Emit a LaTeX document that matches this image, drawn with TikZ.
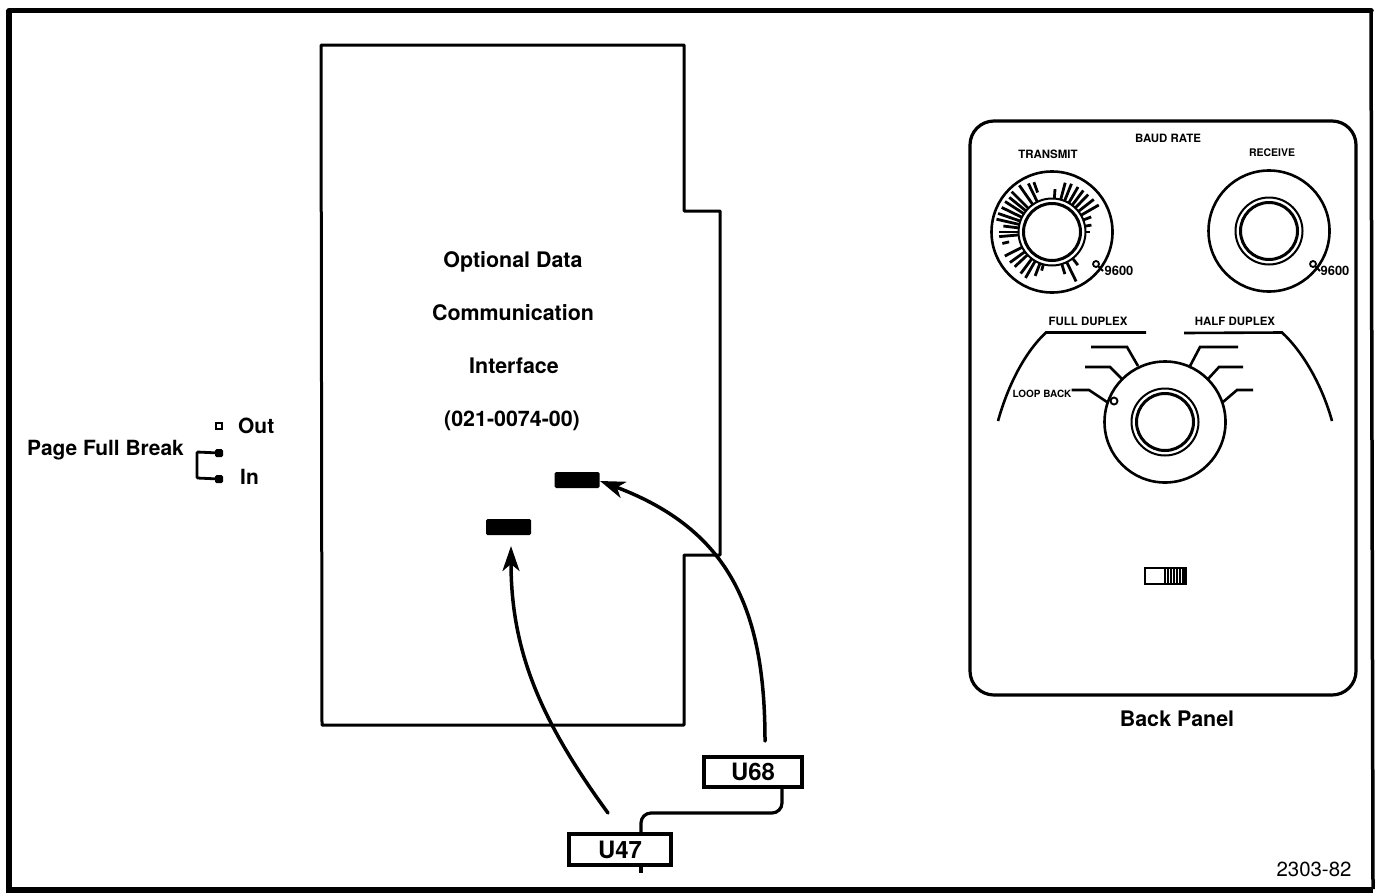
\documentclass[tikz,border=0pt]{standalone}
\usepackage{fontspec}
\setmainfont{TeX Gyre Heros}
\usetikzlibrary{arrows.meta}
\tikzset{
  x=1bp,y=-1bp,
  frameline/.style={line width=5.5bp,line cap=round,line join=round},
  panelline/.style={line width=3bp,line join=round},
  backpanel/.style={line width=3.2bp},
  title/.style={font=\fontsize{21.5}{24}\selectfont\bfseries,inner sep=0pt,anchor=center},
  label/.style={font=\fontsize{21}{24}\selectfont\bfseries,inner sep=0pt,anchor=center},
  smallcaps/.style={font=\fontsize{11.5}{13}\selectfont\bfseries,inner sep=0pt,anchor=center},
  chipbox/.style={fill=black,rounded corners=1.5bp,minimum width=45bp,minimum height=16bp,inner sep=0pt},
  ubox/.style={draw,line width=3.2bp,fill=white,font=\fontsize{24}{26}\selectfont\bfseries,inner sep=0pt},
  pointer/.style={line width=3.5bp,line cap=round,-{Stealth[length=25bp,width=17bp,inset=7bp]}},
  knobline/.style={line width=2.6bp},
  knobring/.style={line width=2bp},
  wire/.style={line width=3.2bp,line join=round},
  tick/.style={line width=2.8bp},
  jumper/.style={fill=black,rounded corners=1.5bp,minimum width=8bp,minimum height=8bp,inner sep=0pt},
}
\begin{document}
\begin{tikzpicture}
\useasboundingbox (0,0) rectangle (1377,893);
% outer frame
\draw[frameline] (9,10.5) -- (1371,10.5);
\draw[line width=3.5bp] (1371,10) -- (1373,889);
\draw[line width=6bp] (9,10) -- (9,890) -- (1373,890);

% card outline
\draw[panelline] (321,45) -- (684,45) -- (684,211) -- (720,211) -- (720,555) -- (684,555) -- (684,725) -- (322,725) -- cycle;
\node[title] (t1) at (513,261.5) {Optional Data};
\node[title] (t2) at (513,312.5) {Communication};
\node[title] (t3) at (514,365.5) {Interface};
\node[title] (t4) at (512,421) {(021-0074-00)};

% chips
\node[chipbox] (chipa) at (577,480) {};
\node[chipbox] (chipb) at (508.5,527) {};

% U boxes
\node[ubox,minimum width=98bp,minimum height=30bp] (uc) at (753,772) {U68};
\node[ubox,minimum width=102bp,minimum height=31bp] (ud) at (620,849.5) {U47};

% arrows
\coordinate (sa) at (765,741);
\coordinate (ea) at (600,481);
\coordinate (sb) at (608,813);
\coordinate (eb) at (511,546);
\draw[pointer] (sa) .. controls (765,610) and (730,530) .. (ea);
\draw[pointer] (sb) .. controls (540,720) and (511,650) .. (eb);

% wire between U68 and U47
\coordinate (ucb) at (782,787);
\coordinate (udt) at (641,834);
\coordinate (udb) at (641,873);
\draw[wire,rounded corners=10bp] (ucb) -- (782,813) -- (641,813) -- (udt);
\draw[wire] (641,865) -- (udb);

% page full break
\node[label] (pf) at (105.5,450.5) {Page Full Break};
\node[label,anchor=west] (out) at (238,426) {Out};
\node[label,anchor=west] (in) at (240,477) {In};
\node[draw,line width=2bp,minimum width=6bp,minimum height=6bp,inner sep=0pt] (sq) at (218.5,426) {};
\node[jumper] (ja) at (219,453) {};
\node[jumper] (jb) at (219,479) {};
\draw[line width=2.8bp,rounded corners=1bp] (ja.center) -- (197,452) -- (197,478) -- (jb.center);

% back panel
\draw[backpanel,rounded corners=24bp] (970,121) rectangle (1356,695);
\node[title] (bp) at (1177,719) {Back Panel};
\node[inner sep=0pt,font=\fontsize{20.5}{22}\selectfont] (num) at (1314,869) {2303-82};

\node[smallcaps] (baud) at (1168,138) {BAUD RATE};
\node[smallcaps] (tx) at (1048,154) {TRANSMIT};
\node[smallcaps,font=\fontsize{10.5}{13}\selectfont\bfseries] (rx) at (1272,153) {RECEIVE};
\node[smallcaps] (fd) at (1088,321) {FULL DUPLEX};
\node[smallcaps] (hd) at (1235,321) {HALF DUPLEX};
\node[smallcaps,font=\fontsize{10}{13}\selectfont\bfseries] (lb) at (1042,394) {LOOP BACK};
\node[smallcaps,font=\fontsize{13}{15}\selectfont\bfseries] (na) at (1119,271) {9600};
\node[smallcaps,font=\fontsize{13}{15}\selectfont\bfseries] (nb) at (1335,271) {9600};

% transmit knob ticks
\begin{scope}[shift={(1052,232)}]
\foreach \a/\r/\q in {
  -86/43/33,-75/51/33,-68/52/33,-60/52/33,-53/52/33,-46/52/33,-38/53/33,-30/54/33,-21/42/33,-10/40/33,0/38/33,
  73/44/33,64/55/33,52/42/33,
  105/40/33,111/47/33,120/53/33,127/52/33,137/51/33,144/52/33,153/53/33,167/51/44,175/53/33,180/53/33,
  -173/49/33,-167/57/33,-161/57/33,-154/56/33,-147/56/33,-141/55/33,-135/57/33,-125/57/33,-116/54/33,-110/53/42}
  \draw[tick] (\a:\q) -- (\a:\r);
\end{scope}

% knobs
\foreach \nm/\cx/\cy in {a/1052/232,b/1269/231,c/1165/422}{
  \draw[knobline] (\cx,\cy) circle (60.5);
  \draw[draw=white,line width=3bp] (\cx,\cy) circle (31);
  \draw[knobring] (\cx,\cy) circle (33.5);
  \draw[knobline,line width=3bp] (\cx,\cy) circle (28.5);
}
\draw[line width=1.8bp] (1096,264) circle (3);
\draw[line width=1.8bp] (1313,264) circle (3);
\draw[line width=1.8bp] (1098.5,266.5) -- (1103,271);
\draw[line width=1.8bp] (1315.5,266.5) -- (1320,271);
\draw[line width=1.9bp] (1114,401) circle (3.5);

% duplex brackets
\draw[knobline] (998,421) .. controls (1008,385) and (1025,352) .. (1046,332.5) -- (1146,332.5);
\draw[knobline] (1184,333) -- (1282,332.5) .. controls (1303,352) and (1322,385) .. (1332,421);

% selector leaders
\draw[knobline] (1091,347) -- (1127,347) -- (1138,366);
\draw[knobline] (1085,367) -- (1110,367) -- (1122,379);
\draw[knobline] (lb.east) ++(0,-4) -- (1089,390) -- (1107,402);
\draw[knobline] (1238,347) -- (1200,347) -- (1190,366);
\draw[knobline] (1243,367) -- (1219,367) -- (1208,379);
\draw[knobline] (1253,390) -- (1237,390) -- (1223,402);

% slide switch
\draw[line width=2.4bp] (1145,568) rectangle (1186,584);
\draw[line width=1.8bp] (1165,568) -- (1165,584);
\foreach \x in {1168,1171,1174,1177,1180,1183,1185}
  \draw[line width=1.5bp] (\x,568) -- (\x,584);
\end{tikzpicture}
\end{document}
